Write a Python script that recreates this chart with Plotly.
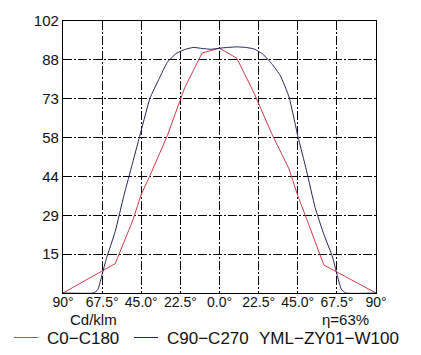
import plotly.graph_objects as go

# ---- data ----
c0_angles = [-90, -60, -50, -45, -40, -30, -20, -10, 0, 10, 20, 30, 40, 45, 50, 60, 90]
c0_values = [0, 11, 27, 37, 44, 59, 77, 90, 91.8, 88, 74.8, 59.8, 46.5, 36.5, 28, 10.5, 0]

c90_angles = [-90, -72.5, -70, -67.5, -65, -60, -55, -50, -45, -40, -35, -30, -25, -20, -15, -10, -5,
              0, 5, 10, 15, 20, 25, 30, 35, 40, 45, 50, 55, 60, 65, 67.5, 70, 72.5, 90]
c90_values = [0, 0, 1.2, 7, 13, 23, 36.5, 48.7, 61, 73, 80, 86.5, 89.8, 91.3, 92.1, 91.7, 91.4,
              91.8, 92.1, 92.3, 92.1, 91.5, 89.5, 86, 81.5, 73.5, 59, 46, 32, 22, 13.5, 7.1, 1.5, 0, 0]

x_tickvals = [-90, -67.5, -45, -22.5, 0, 22.5, 45, 67.5, 90]
x_ticktext = ["90°", "67.5°", "45.0°", "22.5°", "0.0°", "22.5°", "45.0°", "67.5°", "90°"]
y_max = 102
y_ticktext = ["", "15", "29", "44", "58", "73", "88", "102"]
y_tickvals = [k * y_max / 7 for k in range(8)]

RED = "#d03c48"
BLUE = "#22265e"

W, H = 421, 355
L, R, T, B = 63, 45, 12, 62
pw, ph = W - L - R, H - T - B


def px(x):
    return (x - L) / pw


def py(y):
    return (H - B - y) / ph


fig = go.Figure()
fig.add_trace(go.Scatter(x=c0_angles, y=c0_values, mode="lines",
                         line=dict(color=RED, width=1), name="C0−C180"))
fig.add_trace(go.Scatter(x=c90_angles, y=c90_values, mode="lines",
                         line=dict(color=BLUE, width=1, shape="spline", smoothing=0.4),
                         name="C90−C270"))

FAM = "Liberation Sans, Arial, sans-serif"
font = dict(family=FAM, size=15, color="#111111")
xfont = dict(family=FAM, size=14, color="#111111")
legfont = dict(family=FAM, size=17, color="#111111")
grid = dict(showgrid=True, gridcolor="black", gridwidth=1, griddash="9px,2px,2px,2px",
            showline=True, linecolor="black", linewidth=1.2, mirror=True,
            zeroline=False, ticks="")

fig.update_xaxes(range=[-90, 90], tickvals=x_tickvals, ticktext=x_ticktext,
                 ticklabelstandoff=-4, tickfont=xfont, **grid)
fig.update_yaxes(range=[0, y_max], tickvals=y_tickvals, ticktext=y_ticktext,
                 tickfont=font, **grid)

annotations = [
    dict(text="Cd/klm", x=px(93), y=py(320), font=font),
    dict(text="η=63%", x=px(345), y=py(320), font=font),
    dict(text="C0−C180", x=px(45), y=py(340), xanchor="left", font=legfont),
    dict(text="C90−C270", x=px(165), y=py(340), xanchor="left", font=legfont),
    dict(text="YML−ZY01−W100", x=px(257), y=py(340), xanchor="left", font=legfont),
]
for a in annotations:
    a.setdefault("xanchor", "center")
    fig.add_annotation(xref="paper", yref="paper", showarrow=False, yanchor="middle", **a)

fig.add_shape(type="line", xref="paper", yref="paper", x0=px(14), x1=px(38),
              y0=py(339), y1=py(339), line=dict(color=RED, width=1))
fig.add_shape(type="line", xref="paper", yref="paper", x0=px(134), x1=px(158),
              y0=py(339), y1=py(339), line=dict(color=BLUE, width=1))

fig.update_layout(width=W, height=H, margin=dict(l=L, r=R, t=T, b=B),
                  paper_bgcolor="white", plot_bgcolor="white", showlegend=False,
                  font=font)

fig.write_html("out.html")
